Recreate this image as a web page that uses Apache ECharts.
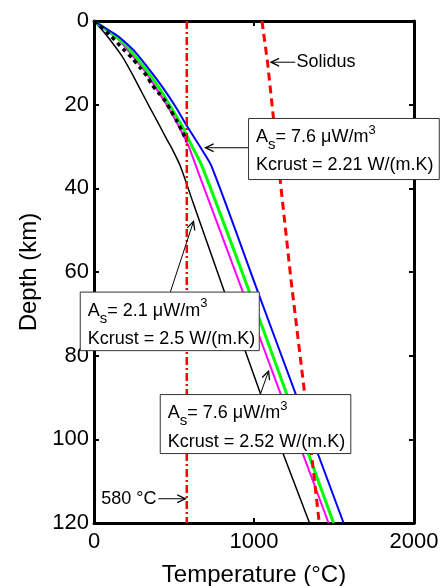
<!DOCTYPE html>
<html>
<head>
<meta charset="utf-8">
<script src="https://cdn.jsdelivr.net/npm/echarts@6/dist/echarts.min.js"></script>
<style>
  html, body { margin: 0; padding: 0; background: #fff; }
  #chart { width: 445px; height: 586px; }
</style>
</head>
<body>
<div id="chart"></div>
<script>
// Geotherms: [temperature (°C), depth (km)]
const xTicks = [0, 1000, 2000];
const yTicks = [0, 20, 40, 60, 80, 100, 120];

const geothermBlack = [[0,0],[73,3.15],[175,8.4],[235,12.4],[290,16.4],[345,20.4],[400,24.3],[455,28.3],[490,30.7],[540,34.7],[620,43.5],[810,64.2],[1039,88.9],[1347,120]];
const geothermDashed = [[0,0],[94,3.15],[185,6.8],[237,8.8],[289,11.2],[331,13.2],[362,15.2],[404,17.2],[446,19.2],[477,21.2],[519,24],[550,26.3],[580,28.8]];
const geothermMagenta = [[0,0],[110,3.15],[154,4.42],[214,7.1],[327,12.4],[394,16.4],[460,20.4],[529,25.1],[591,29.9],[648,35.8],[925,64.2],[1164,88.9],[1466,120]];
const geothermGreen = [[0,0],[119,3.15],[160,4.42],[229,7.1],[341,12.4],[414,16.4],[477,20.4],[550,25.1],[612,29.9],[675,34.7],[966,64.2],[1202,88.9],[1497,120]];
const geothermBlue = [[0,0],[131,3.15],[175,4.42],[250,7.1],[362,12.4],[439,16.4],[508,20.4],[581,25.1],[660,29.9],[733,34.6],[1019,64.2],[1258,88.9],[1560,120]];
const solidus = [[1050,0],[1085,10],[1116,21.2],[1231,61.8],[1316,88.9],[1408,120]];
const isotherm580 = [[580,0],[580,120]];

const FONT = '"Liberation Sans", Arial, Helvetica, sans-serif';

// annotation boxes (data coords of corners) and arrows (from -> tip)
const notes = [
  { box: [[966, 23.3], [2158, 37.9]], l1: '7.6', l2: 'Kcrust = 2.21 W/(m.K)', arrow: [[964, 30.3], [697, 30.3]] },
  { box: [[-86, 64.8], [1033, 78.8]], l1: '2.1', l2: 'Kcrust = 2.5 W/(m.K)', arrow: [[477, 64.8], [622, 47.9]] },
  { box: [[414, 89.3], [1605, 103.4]], l1: '7.6', l2: 'Kcrust = 2.52 W/(m.K)', arrow: [[1039, 89.3], [1091, 83.7]] }
];

const chart = echarts.init(document.getElementById('chart'), null, { renderer: 'canvas' });

function line(data, color, width, type, smooth) {
  return {
    type: 'line', data: data, showSymbol: false, silent: true, animation: false,
    smooth: smooth || false,
    lineStyle: { color: color, width: width, type: type || 'solid' }
  };
}

const axisCommon = {
  type: 'value',
  axisLine: { show: true, onZero: false, lineStyle: { color: '#000', width: 3 } },
  axisTick: { show: true, inside: true, length: 5, lineStyle: { color: '#000', width: 2 } },
  splitLine: { show: false }
};

chart.setOption({
  animation: false,
  grid: { left: 94, right: 31, top: 21, bottom: 63, containLabel: false, outerBoundsMode: 'none' },
  xAxis: [
    Object.assign({}, axisCommon, {
      position: 'bottom', min: xTicks[0], max: xTicks[xTicks.length - 1], interval: 1000,
      axisLabel: { fontSize: 22, color: '#000', fontFamily: FONT, margin: 8, formatter: v => String(v) },
      name: 'Temperature (°C)', nameLocation: 'middle', nameGap: 40,
      nameTextStyle: { fontSize: 24, color: '#000', fontFamily: FONT }
    }),
    Object.assign({}, axisCommon, {
      position: 'top', min: 0, max: 2000, interval: 1000, axisLabel: { show: false }
    })
  ],
  yAxis: [
    Object.assign({}, axisCommon, {
      position: 'left', inverse: true, min: yTicks[0], max: yTicks[yTicks.length - 1], interval: 20,
      axisLabel: { fontSize: 22, color: '#000', fontFamily: FONT, margin: 5, formatter: v => String(v) },
      name: 'Depth (km)', nameLocation: 'middle', nameGap: 47,
      nameTextStyle: { fontSize: 24, color: '#000', fontFamily: FONT }
    }),
    Object.assign({}, axisCommon, {
      position: 'right', inverse: true, min: 0, max: 120, interval: 20, axisLabel: { show: false }
    })
  ],
  series: [
    line(geothermBlack, '#000', 1.5, 'solid', 0.25),
    line(geothermMagenta, '#ff00ff', 2, 'solid', 0.25),
    line(geothermGreen, '#00ff00', 3, 'solid', 0.25),
    line(geothermBlue, '#0000ff', 2, 'solid', 0.25),
    line(geothermDashed, '#000', 3.5, [4, 4], 0.25),
    line(solidus, '#ff0000', 3, [8, 5]),
    line(isotherm580, '#ff0000', 2.5, [8, 3, 2, 3])
  ]
});

// ── Annotations ──────────────────────────────────────────────
function px(p) { return chart.convertToPixel({ gridIndex: 0 }, p); }

function arrow(from, to) {
  const a = px(from), b = px(to);
  const ang = Math.atan2(b[1] - a[1], b[0] - a[0]);
  const L = 9, W = 0.45;
  const h1 = [b[0] - L * Math.cos(ang - W), b[1] - L * Math.sin(ang - W)];
  const h2 = [b[0] - L * Math.cos(ang + W), b[1] - L * Math.sin(ang + W)];
  return [
    { type: 'line', z: 100, shape: { x1: a[0], y1: a[1], x2: b[0], y2: b[1] }, style: { stroke: '#000', lineWidth: 1 } },
    { type: 'polyline', z: 100, shape: { points: [h1, b, h2] }, style: { stroke: '#000', lineWidth: 1.3, fill: null } }
  ];
}

const rich = {
  n: { fontSize: 18, fontFamily: FONT, color: '#000' },
  sub: { fontSize: 15, fontFamily: FONT, color: '#000', padding: [16, 0, 0, 0] },
  sup: { fontSize: 13, fontFamily: FONT, color: '#000', padding: [0, 0, 14, 0] }
};

const elements = [];
notes.forEach(n => {
  const p0 = px(n.box[0]), p1 = px(n.box[1]);
  elements.push(...arrow(n.arrow[0], n.arrow[1]));
  elements.push({
    type: 'rect', z: 110,
    shape: { x: p0[0], y: p0[1], width: p1[0] - p0[0], height: p1[1] - p0[1] },
    style: { fill: '#fff', stroke: '#333', lineWidth: 1 }
  });
  elements.push({
    type: 'text', z: 111, x: p0[0] + 7.5, y: p0[1] + 18.5,
    style: { text: '{n|A}{sub|s}{n|= ' + n.l1 + ' μW/m}{sup|3}', rich: rich, verticalAlign: 'middle', align: 'left' }
  });
  elements.push({
    type: 'text', z: 111, x: p0[0] + 7.5, y: p0[1] + 47,
    style: { text: n.l2, fontSize: 18, fontFamily: FONT, fill: '#000', verticalAlign: 'middle', align: 'left' }
  });
});

// Solidus label
const sol = px([1265, 9.85]);
elements.push(...arrow([1258, 9.85], [1106, 9.85]));
elements.push({ type: 'text', z: 111, x: sol[0], y: sol[1],
  style: { text: 'Solidus', fontSize: 18, fontFamily: FONT, fill: '#000', verticalAlign: 'middle', align: 'left' } });

// 580 °C label
const iso = px([390, 114.2]);
elements.push(...arrow([402, 114.2], [571, 114.2]));
elements.push({ type: 'text', z: 111, x: iso[0], y: iso[1],
  style: { text: '580 °C', fontSize: 18, fontFamily: FONT, fill: '#000', verticalAlign: 'middle', align: 'right' } });

chart.setOption({ graphic: { elements: elements } });
</script>
</body>
</html>
